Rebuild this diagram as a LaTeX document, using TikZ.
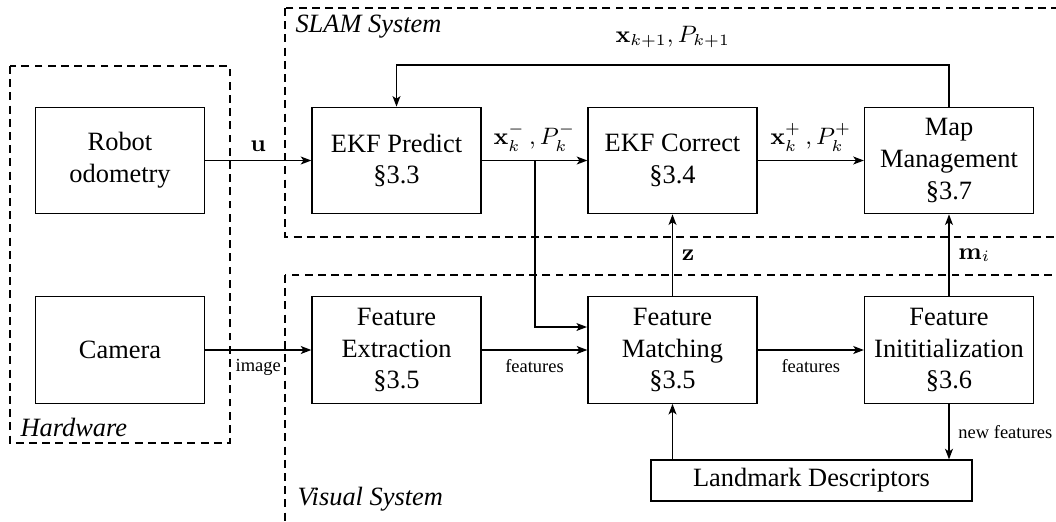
\documentclass[tikz,border=0pt]{standalone}
\usepackage[no-math]{fontspec}
\setmainfont{Liberation Serif}
\usetikzlibrary{arrows.meta,calc}
\begin{document}
\begin{tikzpicture}[x=0.3788pt,y=-0.3788pt,
  blk/.style={draw,line width=0.5pt,align=center,minimum width=64pt,minimum height=40.3pt,inner sep=1pt,font=\normalsize},
  grp/.style={draw,line width=0.5pt,dash pattern=on 3pt off 2pt},
  arr/.style={line width=0.5pt,-{Stealth[length=4pt,width=3pt,inset=1pt]}},
  lbl/.style={font=\scriptsize},
  mlbl/.style={font=\small},
  ttl/.style={font=\normalsize\itshape,anchor=west,inner sep=0pt}]
\useasboundingbox (0,0) rectangle (1056,521);
\clip (0,0) rectangle (1056,521);
% groups
\draw[grp] (10,66) rectangle (230,443);
\draw[grp] (285,8) rectangle (1070,237);
\draw[grp] (285,275) rectangle (1070,540);
\node[ttl] (thw) at (20,427) {Hardware};
\node[ttl] (tslam) at (295,27) {SLAM System};
\node[ttl] (tvis) at (297,499) {Visual System};
% blocks
\node[blk] (rob) at (120,160.5) {Robot\\odometry};
\node[blk] (cam) at (120,350) {Camera};
\node[blk] (pred) at (396.5,160.5) {EKF Predict\\\S3.3};
\node[blk] (corr) at (672.5,160.5) {EKF Correct\\\S3.4};
\node[blk] (map) at (949,160.5) {Map\\Management\\\S3.7};
\node[blk] (fext) at (396.5,350) {Feature\\Extraction\\\S3.5};
\node[blk] (fmat) at (672.5,350) {Feature\\Matching\\\S3.5};
\node[blk] (finit) at (949,350) {Feature\\Inititialization\\\S3.6};
\node[draw,line width=0.5pt,minimum width=121.6pt,minimum height=15.5pt,inner sep=1pt] (land) at (811.5,480.5) {Landmark Descriptors};
% connectors
\draw[arr] (rob.east) -- node[mlbl,above]{$\mathbf{u}$} (pred.west);
\draw[arr] (cam.east) -- node[lbl,below]{image} (fext.west);
\draw[arr] (pred.east) -- node[mlbl,above]{$\mathbf{x}_k^-\,,P_k^-$} (corr.west);
\coordinate (br) at (535,160.5);
\coordinate (fmin) at (587,327);
\draw[arr] (br) |- (fmin);
\draw[arr] (fext.east) -- node[lbl,below]{features} (fmat.west);
\draw[arr] (corr.east) -- node[mlbl,above]{$\mathbf{x}_k^+\,,P_k^+$} (map.west);
\draw[arr] (fmat.north) -- node[mlbl,right]{$\mathbf{z}$} (corr.south);
\draw[arr] (fmat.east) -- node[lbl,below]{features} (finit.west);
\draw[arr] (finit.north) -- node[mlbl,right]{$\mathbf{m}_i$} (map.south);
\draw[arr] (finit.south) -- node[lbl,right]{new features} (finit.south |- land.north);
\draw[arr] (fmat.south |- land.north) -- (fmat.south);
\coordinate (fbR) at (949,65);
\coordinate (fbL) at (396.5,65);
\draw[arr] (map.north) -- (fbR) -- node[mlbl,above=3pt]{$\mathbf{x}_{k+1},P_{k+1}$} (fbL) -- (pred.north);
\end{tikzpicture}
\end{document}
